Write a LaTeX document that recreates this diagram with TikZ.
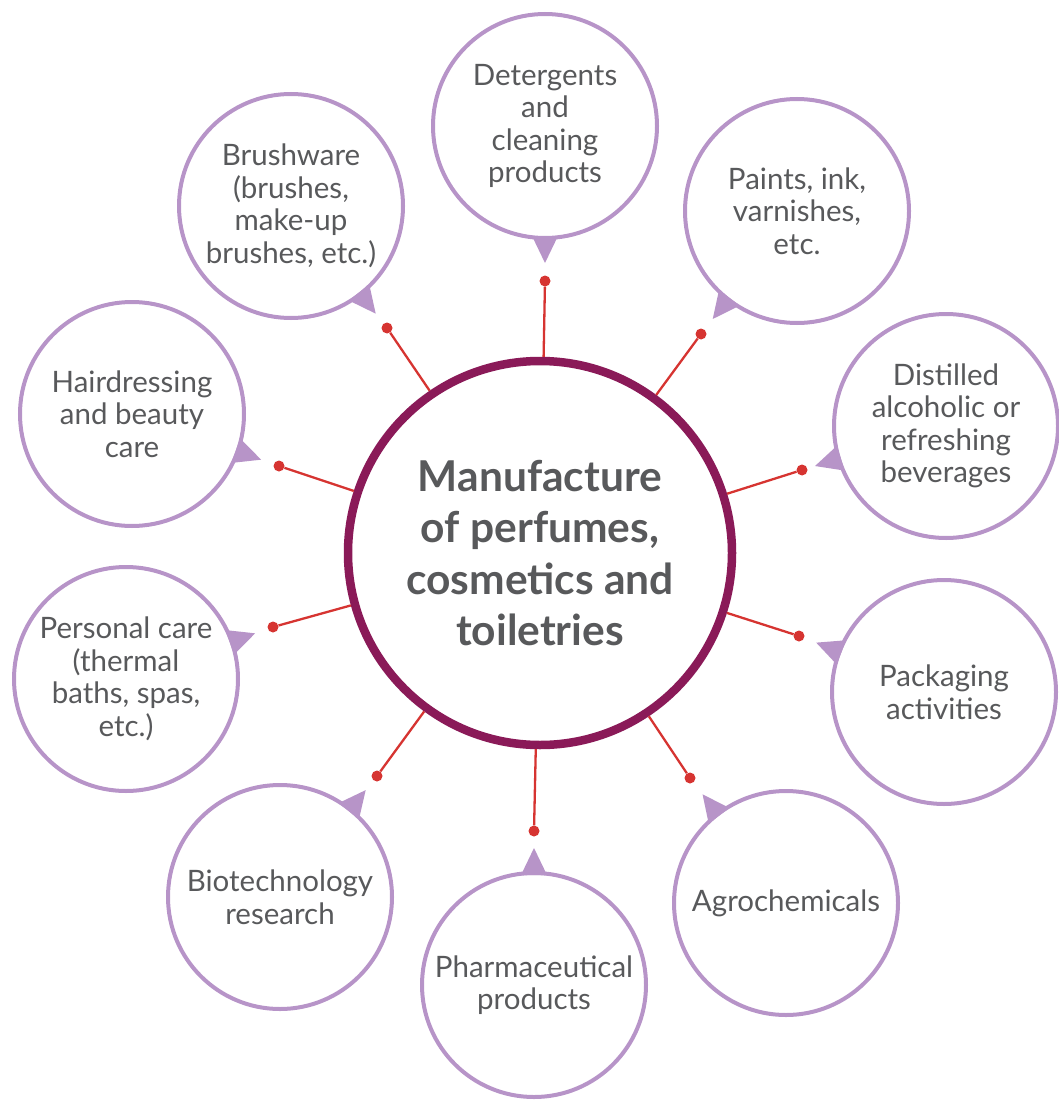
\documentclass[tikz,border=0pt]{standalone}
\usepackage{fontspec}
\setmainfont{Lato}
\usepackage{xcolor}
\usetikzlibrary{calc}

\definecolor{lavender}{HTML}{B794C8}
\definecolor{plum}{HTML}{8A1A58}
\definecolor{linkred}{HTML}{D63431}
\definecolor{textgray}{HTML}{58595B}

\begin{document}
\begin{tikzpicture}[x=1pt, y=-1pt,
    hub/.style={circle, draw=plum, line width=8.5pt, minimum size=384pt, inner sep=0pt,
        align=center, text=textgray, font=\fontsize{42.5}{51.5}\selectfont\bfseries},
    sector/.style={circle, draw=lavender, line width=4pt, minimum size=224pt, inner sep=0pt,
        align=center, text=textgray, font=\fontsize{29.5}{32.5}\selectfont},
    dot/.style={circle, fill=linkred, minimum size=11pt, inner sep=0pt},
    link/.style={linkred, line width=2.3pt}]
    \useasboundingbox (0,0) rectangle (1059,1102);

    % central circle
    \node[hub] (hub) at (540,553) {Manufacture\\of perfumes,\\cosmetics and\\toiletries};

    % outer circles, each with a dot, a link and a pointer
    \foreach \name/\cx/\cy/\dx/\dy/\txt in {
        det/545/126/545/281/{Detergents\\and\\cleaning\\products},
        paint/797/211/701/334/{Paints, ink,\\varnishes,\\etc.},
        drink/946/426/802/470/{Distilled\\alcoholic or\\refreshing\\beverages},
        pack/944/692/799/636/{Packaging\\activities},
        agro/786/903/690/778/{Agrochemicals},
        pharma/534/985/534/831/{Pharmaceutical\\products},
        biotech/280/897/377/776/{Biotechnology\\research},
        personal/126/679/273/627/{Personal care\\(thermal\\baths, spas,\\etc.)},
        hair/132/414/279/466/{Hairdressing\\and beauty\\care},
        brush/291/206/387/328/{Brushware\\(brushes,\\make-up\\brushes, etc.)}} {
        \node[sector] (\name) at (\cx,\cy) {\txt};
        \node[dot] (\name-dot) at (\dx,\dy) {};
        \draw[link] (hub) -- (\name-dot);
        \coordinate (\name-base) at ($(\name)!110pt!(\name-dot)$);
        \fill[lavender] ($(\name)!137pt!(\name-dot)$) -- ($(\name-base)!13pt!90:(\name-dot)$)
            -- ($(\name-base)!13pt!-90:(\name-dot)$) -- cycle;
    }
\end{tikzpicture}
\end{document}
